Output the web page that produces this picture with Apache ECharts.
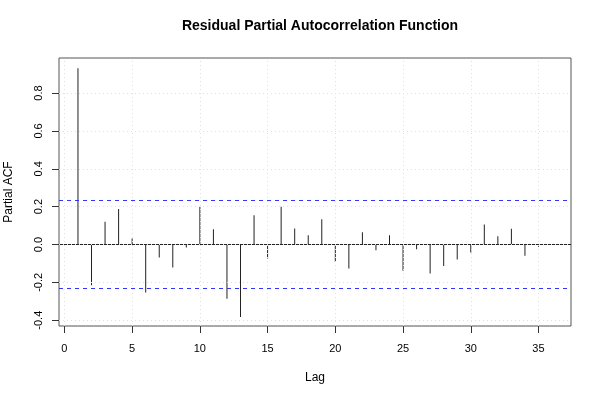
<!DOCTYPE html>
<html><head><meta charset="utf-8">
<script src="https://cdn.jsdelivr.net/npm/echarts@6/dist/echarts.min.js"></script>
<style>html,body{margin:0;padding:0;background:#fff}#c{width:600px;height:400px}</style>
</head><body><div id="c"></div>
<script>
const lags = [1,2,3,4,5,6,7,8,9,10,11,12,13,14,15,16,17,18,19,20,21,22,23,24,25,26,27,28,29,30,31,32,33,34,35,36];
const pacfValues = [0.931,-0.215,0.120,0.187,0.032,-0.254,-0.069,-0.122,-0.016,0.199,0.081,-0.286,-0.383,0.155,-0.074,0.199,0.085,0.049,0.134,-0.092,-0.127,0.065,-0.030,0.049,-0.139,-0.025,-0.153,-0.113,-0.079,-0.042,0.106,0.044,0.083,-0.060,-0.012,0.002];
const ciBound = 0.2325;
const xTicks = [0,5,10,15,20,25,30,35];
const yTicks = [-0.4,-0.2,0,0.2,0.4,0.6,0.8];
const yTickLabels = ['-0.4','-0.2','0.0','0.2','0.4','0.6','0.8'];

const font = 'Liberation Sans, Arial, sans-serif';
const xMin = -0.4, xMax = 37.4;
const chart = echarts.init(document.getElementById('c'), null, {renderer:'canvas'});
const gridLines = [];
xTicks.forEach(v => gridLines.push({xAxis: v}));
yTicks.forEach(v => gridLines.push({yAxis: v}));

function hLine(name, y, style, z) {
  return {name: name, type: 'line', data: [[xMin, y], [xMax, y]], silent: true, z: z,
    showSymbol: false, symbol: 'none', color: style.color, lineStyle: style};
}

chart.setOption({
  animation: false,
  title: {text: 'Residual Partial Autocorrelation Function', left: 315, top: 14, textAlign: 'center',
    textStyle: {fontFamily: font, fontSize: 14, fontWeight: 'bold', color: '#000'}},
  grid: {left: 59, right: 29, top: 58, bottom: 74, outerBoundsMode: 'none', containLabel: false,
    show: true, borderColor: '#555', borderWidth: 1, backgroundColor: 'transparent'},
  xAxis: {type: 'value', min: xMin, max: xMax, position: 'bottom',
    name: 'Lag', nameLocation: 'middle', nameGap: 46,
    nameTextStyle: {fontFamily: font, fontSize: 12, color: '#000'},
    axisLine: {show: false, onZero: false},
    axisTick: {show: true, length: 7, inside: false, customValues: xTicks, lineStyle: {color: '#333'}},
    axisLabel: {customValues: xTicks, margin: 17, fontFamily: font, fontSize: 11, color: '#000'},
    splitLine: {show: false}},
  yAxis: {type: 'value', min: -0.4306, max: 0.9854, position: 'left',
    name: 'Partial ACF', nameLocation: 'middle', nameGap: 44, nameRotate: 90,
    nameTextStyle: {fontFamily: font, fontSize: 12, color: '#000'},
    axisLine: {show: false, onZero: false},
    axisTick: {show: true, length: 7, inside: false, customValues: yTicks, lineStyle: {color: '#333'}},
    axisLabel: {customValues: yTicks, rotate: 90, margin: 15, fontFamily: font, fontSize: 11, color: '#000',
      formatter: v => yTickLabels[yTicks.findIndex(t => Math.abs(t - v) < 1e-9)] ?? ''},
    splitLine: {show: false}},
  series: [
    {type: 'line', data: [], silent: true, z: 1,
      markLine: {symbol: 'none', silent: true, label: {show: false},
        lineStyle: {color: '#e0e0e0', type: [1, 3], width: 1}, data: gridLines}},
    {type: 'bar', data: lags.map((l, i) => [l, pacfValues[i]]), barWidth: 1, z: 3,
      itemStyle: {color: '#222'}, silent: true},
    hLine('zero', 0, {color: '#222', type: 'solid', width: 1}, 4),
    hLine('ciUpper', ciBound, {color: '#3333ff', type: [4, 4], width: 1}, 4),
    hLine('ciLower', -ciBound, {color: '#3333ff', type: [4, 4], width: 1}, 4)
  ]
});
</script></body></html>
